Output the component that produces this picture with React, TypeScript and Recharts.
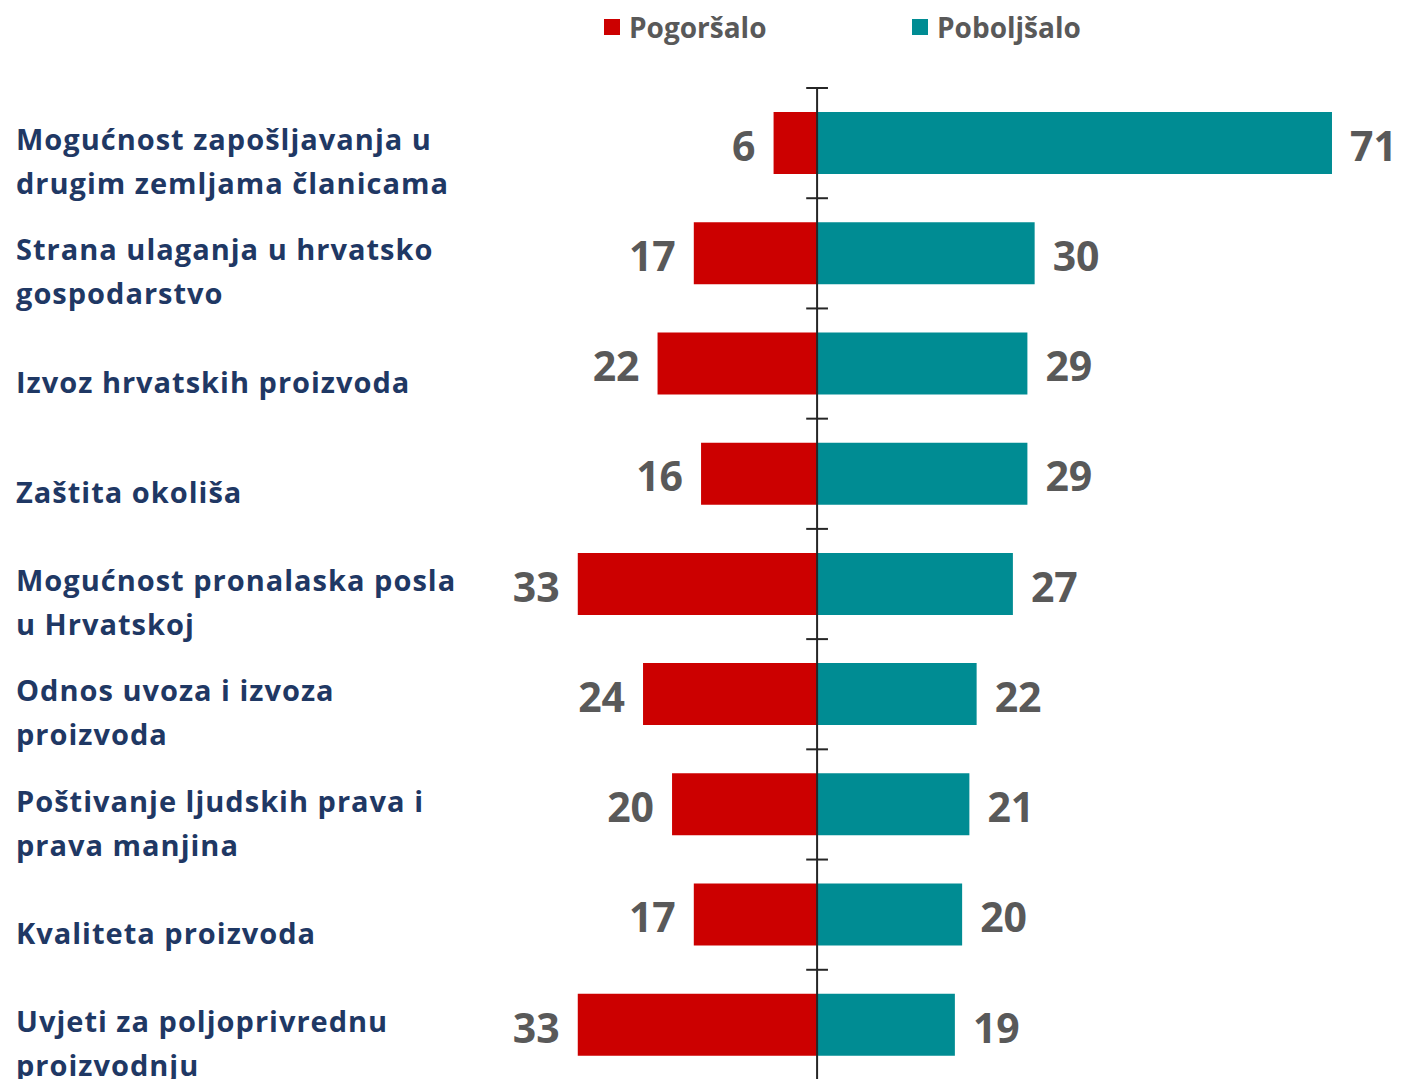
import React from 'react';
import {
  BarChart, Bar, XAxis, YAxis, ReferenceLine, LabelList,
} from 'recharts';

const categories = [
  'Mogućnost zapošljavanja u\ndrugim zemljama članicama',
  'Strana ulaganja u hrvatsko\ngospodarstvo',
  'Izvoz hrvatskih proizvoda',
  'Zaštita okoliša',
  'Mogućnost pronalaska posla\nu Hrvatskoj',
  'Odnos uvoza i izvoza\nproizvoda',
  'Poštivanje ljudskih prava i\nprava manjina',
  'Kvaliteta proizvoda',
  'Uvjeti za poljoprivrednu\nproizvodnju',
];
const worse = [6, 17, 22, 16, 33, 24, 20, 17, 33];
const better = [71, 30, 29, 29, 27, 22, 21, 20, 19];

const RED = '#CC0000';
const TEAL = '#008C93';
const NAVY = '#1F3864';
const GREY = '#595959';
const FONT = '"Open Sans", Lato, sans-serif';

const chartData = categories.map((name, i) => ({
  name,
  worse: -worse[i],
  better: better[i],
}));

function CategoryTick({ y, payload }: { y?: number; payload?: { value: string } }) {
  const lines = (payload?.value ?? '').split('\n');
  const mid = (y ?? 0) + 19;
  return (
    <g>
      {lines.map((line, i) => (
        <text
          key={i}
          x={16}
          y={mid + (i - (lines.length - 1) / 2) * 44}
          dy="0.35em"
          textAnchor="start"
          fill={NAVY}
          fontSize={29}
          fontWeight={700}
          fontFamily={FONT}
          letterSpacing={1}
        >
          {line}
        </text>
      ))}
    </g>
  );
}

function ValueLabel(props: any) {
  const { x, y, width, height, value } = props;
  const neg = value < 0;
  const left = Math.min(x, x + width);
  const right = Math.max(x, x + width);
  return (
    <text
      x={neg ? left - 18 : right + 18}
      y={y + height / 2 + 3}
      dy="0.36em"
      textAnchor={neg ? 'end' : 'start'}
      fill={GREY}
      fontSize={41}
      fontWeight={700}
      fontFamily={FONT}
    >
      {Math.abs(value)}
    </text>
  );
}

function Legend() {
  const item = (color: string, label: string, left: number) => (
    <div style={{ position: 'absolute', left, top: 10, display: 'flex', alignItems: 'center' }}>
      <span style={{ width: 16, height: 16, background: color, display: 'inline-block', marginRight: 9 }} />
      <span style={{ color: GREY, fontSize: 28, fontWeight: 700, fontFamily: FONT, lineHeight: '34px' }}>{label}</span>
    </div>
  );
  return (
    <>
      {item(RED, 'Pogoršalo', 604)}
      {item(TEAL, 'Poboljšalo', 912)}
    </>
  );
}

export default function App() {
  return (
    <div style={{ position: 'absolute', left: 0, top: 0, width: 1401, height: 1079, overflow: 'hidden', background: '#fff' }}>
      <Legend />
      <BarChart
        width={1401}
        height={1080}
        data={chartData}
        layout="vertical"
        stackOffset="sign"
        margin={{ top: 88, right: 40, bottom: 0, left: 0 }}
      >
        <XAxis type="number" domain={[-40, 75]} hide allowDataOverflow />
        <YAxis
          type="category"
          dataKey="name"
          width={527}
          axisLine={false}
          tickLine={false}
          tick={<CategoryTick />}
        />
        <Bar dataKey="worse" stackId="a" fill={RED} barSize={62} isAnimationActive={false}>
          <LabelList dataKey="worse" content={<ValueLabel />} />
        </Bar>
        <Bar dataKey="better" stackId="a" fill={TEAL} barSize={62} isAnimationActive={false}>
          <LabelList dataKey="better" content={<ValueLabel />} />
        </Bar>
        <ReferenceLine x={0} stroke="#262626" strokeWidth={2} />
        {categories.map(c => (
          <ReferenceLine
            key={c}
            position="start"
            segment={[{ x: -1.5, y: c }, { x: 1.5, y: c }]}
            stroke="#262626"
            strokeWidth={2}
          />
        ))}
        <ReferenceLine
          position="end"
          segment={[
            { x: -1.5, y: categories[categories.length - 1] },
            { x: 1.5, y: categories[categories.length - 1] },
          ]}
          stroke="#262626"
          strokeWidth={2}
        />
      </BarChart>
    </div>
  );
}
